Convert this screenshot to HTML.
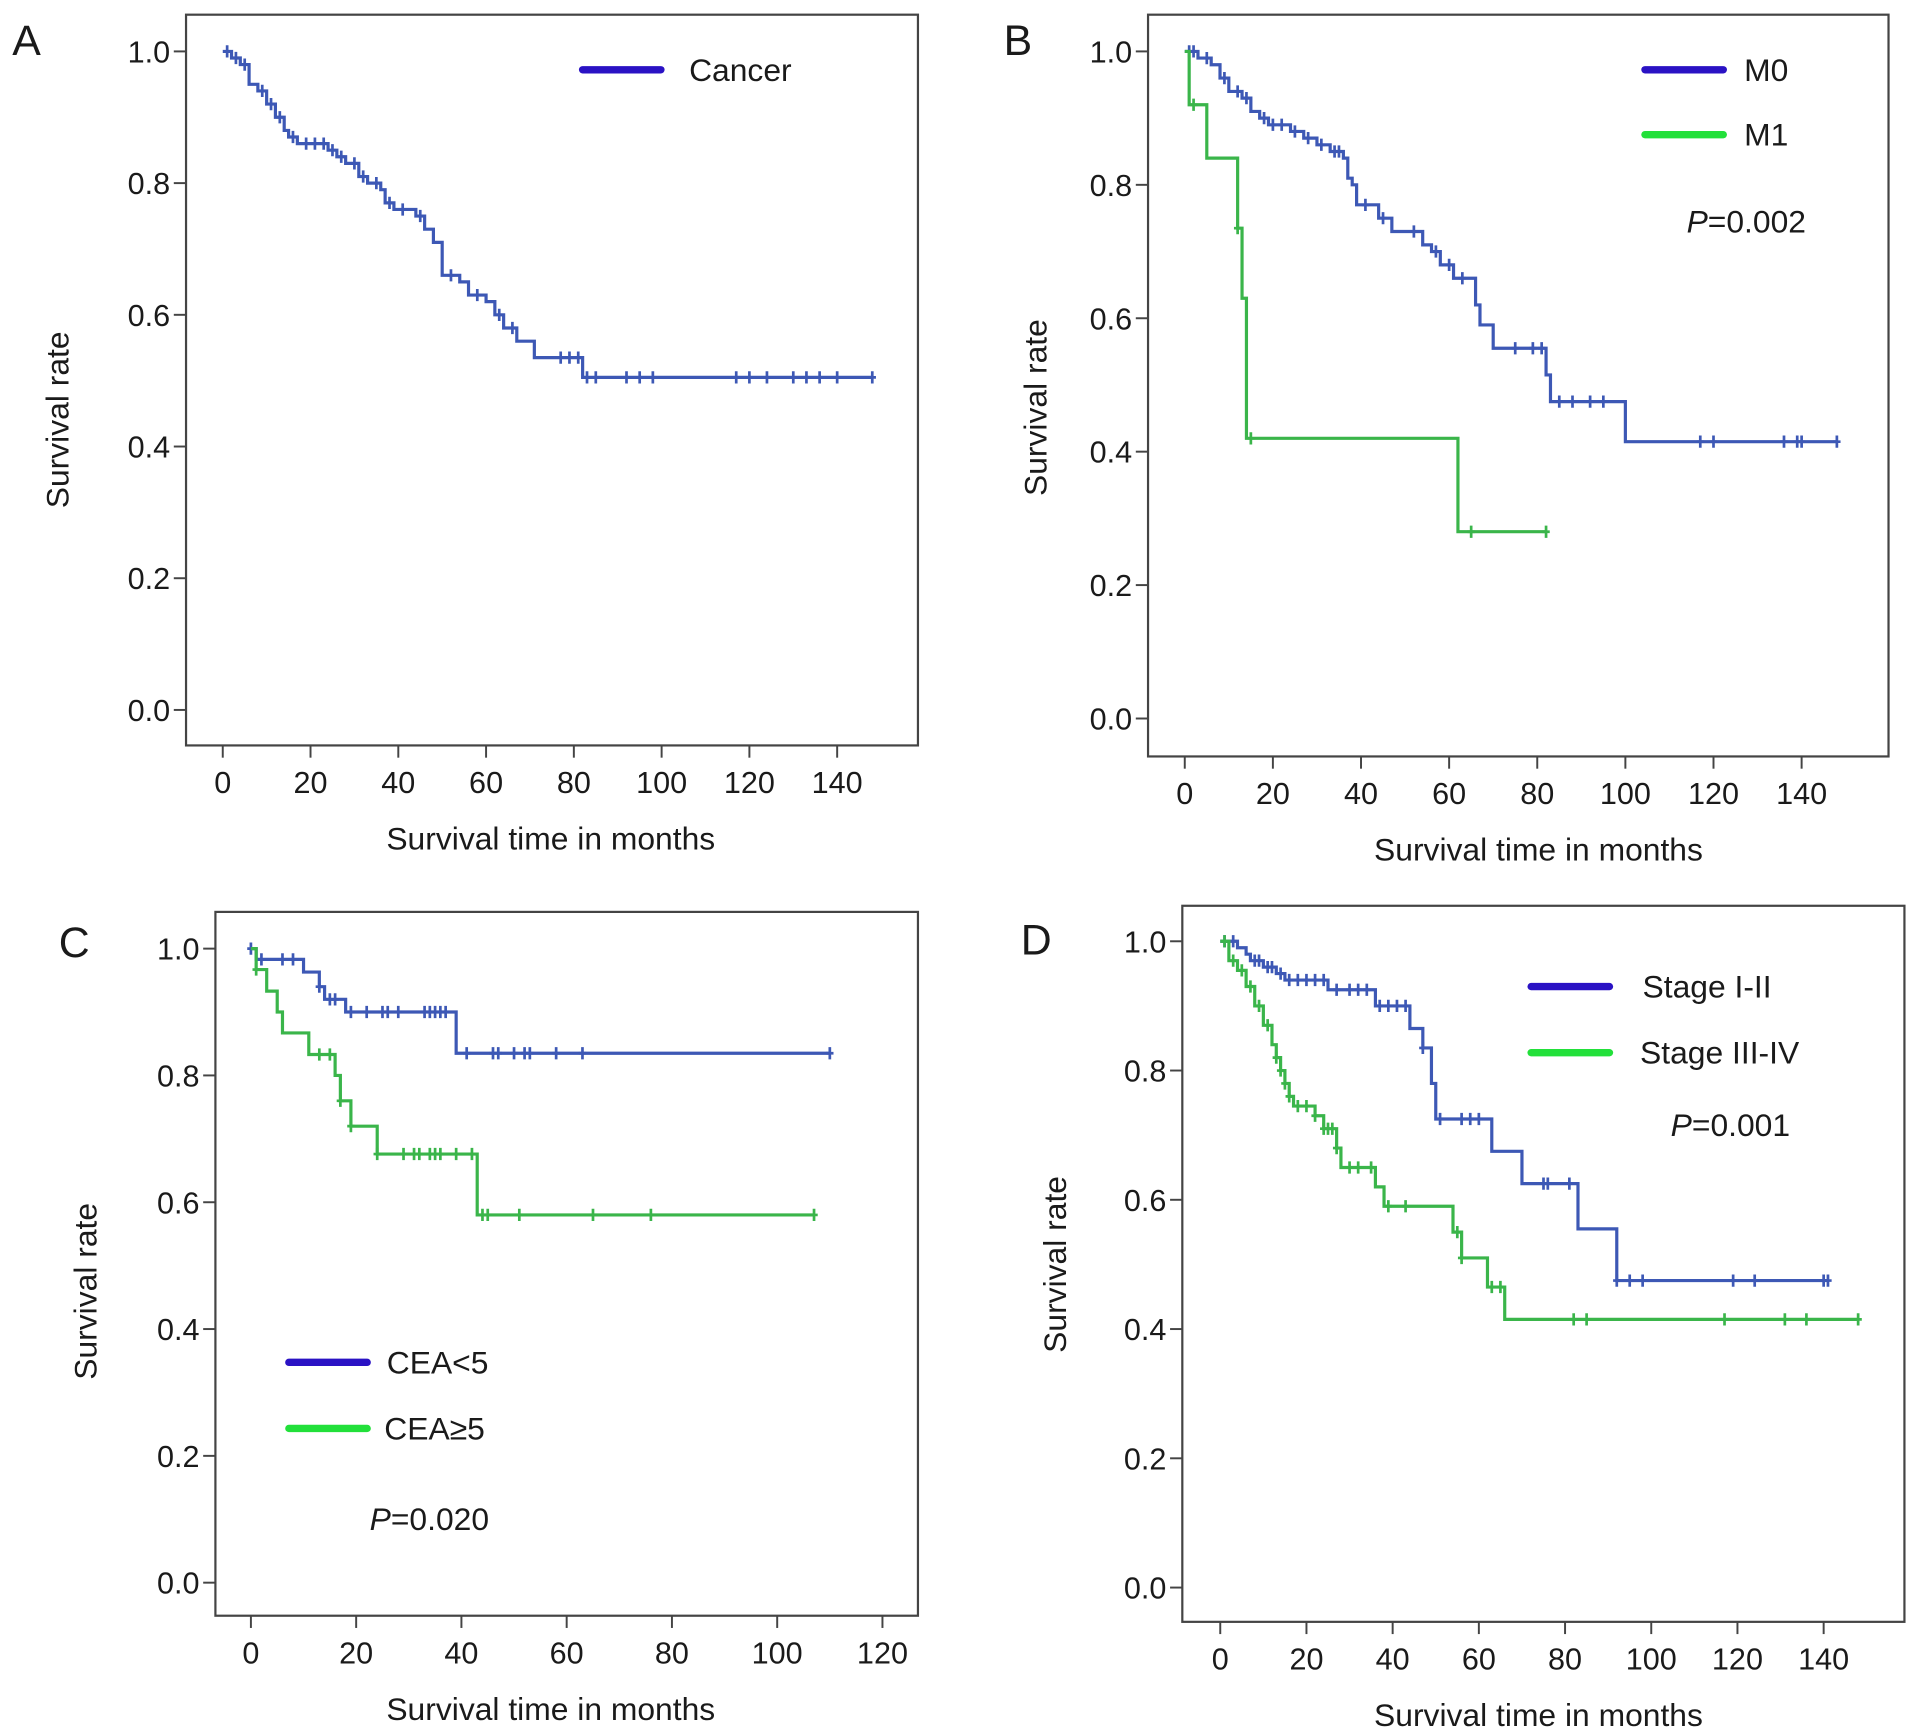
<!DOCTYPE html>
<html><head><meta charset="utf-8"><style>
html,body{margin:0;padding:0;background:#fff}
svg{display:block}
text{font-family:"Liberation Sans",Arial,sans-serif;fill:#1a1a1a}
</style></head><body>
<svg id="fig" width="1913" height="1732" viewBox="0 0 1563 1415" preserveAspectRatio="none" xmlns="http://www.w3.org/2000/svg"></svg>
<script>
// ---- data ----
const yTicks=[0,0.2,0.4,0.6,0.8,1.0];
const xTicksLong=[0,20,40,60,80,100,120,140];
const xTicksC=[0,20,40,60,80,100,120];

const cancerT=[0,2,4,6,8,10,12,14,15,17,24,26,28,31,33,36,37,39,44,46,48,50,54,56,60,62,64,67,71,82];
const cancerS=[1,0.99,0.98,0.95,0.94,0.92,0.90,0.88,0.87,0.86,0.85,0.84,0.83,0.81,0.80,0.79,0.77,0.76,0.75,0.73,0.71,0.66,0.65,0.63,0.62,0.60,0.58,0.56,0.535,0.505];
const cancerEnd=148;
const cancerCens=[1,3,5,9,11,13,16,19,21,23,25,27,30,32,35,38,41,45,52,58,63,66,77,79,81,83,85,92,95,98,117,120,124,130,133,136,140,148];

const m0T=[0,3,6,8,10,13,15,17,19,24,27,30,33,36,37,38,39,44,47,54,56,58,61,66,67,70,82,83,100];
const m0S=[1,0.99,0.98,0.96,0.94,0.93,0.91,0.90,0.89,0.88,0.87,0.86,0.85,0.84,0.81,0.80,0.77,0.75,0.73,0.71,0.70,0.68,0.66,0.62,0.59,0.555,0.515,0.475,0.415];
const m0End=148;
const m0Cens=[1,2,5,9,12,14,18,20,22,25,28,31,34,35,41,45,52,57,60,63,75,79,81,85,88,92,95,117,120,136,139,140,148];
const m1T=[0,1,5,12,13,14,62];
const m1S=[1,0.92,0.84,0.735,0.63,0.42,0.28];
const m1End=82;
const m1Cens=[2,12,15,65,82];

const ceaLowT=[0,1,10,13,14,18,39];
const ceaLowS=[1,0.983,0.963,0.94,0.92,0.90,0.835];
const ceaLowEnd=110;
const ceaLowCens=[0,2,6,8,13,15,16,19,22,25,26,28,33,34,35,36,37,41,46,47,50,52,53,58,63,110];
const ceaHighT=[0,1,3,5,6,11,16,17,19,24,43];
const ceaHighS=[1,0.967,0.933,0.90,0.867,0.833,0.80,0.76,0.72,0.676,0.58];
const ceaHighEnd=107;
const ceaHighCens=[1,13,15,17,19,24,29,31,32,34,35,36,39,42,44,45,51,65,76,107];

const st12T=[0,4,6,7,10,13,15,25,36,44,47,49,50,63,70,83,92];
const st12S=[1,0.99,0.98,0.97,0.96,0.95,0.94,0.925,0.90,0.865,0.835,0.78,0.725,0.675,0.625,0.555,0.475];
const st12End=141;
const st12Cens=[1,3,8,9,11,12,14,16,18,20,22,24,27,30,32,34,37,39,41,43,47,51,56,58,60,75,76,81,92,95,98,119,124,140,141];
const st34T=[0,2,4,6,8,10,12,13,14,15,16,17,22,24,27,28,36,38,54,56,62,66];
const st34S=[1,0.97,0.955,0.93,0.90,0.87,0.84,0.82,0.80,0.78,0.76,0.745,0.73,0.71,0.68,0.65,0.62,0.59,0.55,0.51,0.465,0.415];
const st34End=148;
const st34Cens=[1,3,5,7,9,11,13,14,15,16,18,20,22,24,25,26,27,30,32,35,39,43,55,56,63,65,82,85,117,131,136,148];

// ---- rendering ----
const NS="http://www.w3.org/2000/svg";
const svg=document.getElementById('fig');
const BLUE="#3d58b5",GREEN="#3ab54a",LBLUE="#2a12c4",LGREEN="#22e03a";
function mk(tag,attrs,parent){const e=document.createElementNS(NS,tag);for(const k in attrs)e.setAttribute(k,attrs[k]);(parent||svg).appendChild(e);return e;}
function txt(s,x,y,size,anchor,parent,extra){const t=mk('text',Object.assign({x:x,y:y,'font-size':size,'text-anchor':anchor||'start'},extra||{}),parent);t.textContent=s;return t;}

function panel(cfg){
  const g=mk('g',{});
  
  
  const X=v=>cfg.x0+(v)*(cfg.x1-cfg.x0)/cfg.xmaxTick;
  const Y=v=>cfg.y0+(cfg.y1-cfg.y0)*v;
  const box=mk('rect',{x:cfg.bx,y:cfg.by,width:cfg.bw,height:cfg.bh,fill:'none',stroke:'#444','stroke-width':1.8},g);
  
  
  yTicks.forEach(v=>{
    const yy=Y(v);
    mk('line',{x1:cfg.bx-10,x2:cfg.bx,y1:yy,y2:yy,stroke:'#444','stroke-width':1.6},g);
    const t=txt(v.toFixed(1),cfg.bx-13,yy+9,25,'end',g);
    
    
  });
  cfg.xticks.forEach(v=>{
    const xx=X(v);
    mk('line',{x1:xx,x2:xx,y1:cfg.by+cfg.bh,y2:cfg.by+cfg.bh+10,stroke:'#444','stroke-width':1.6},g);
    const t=txt(String(v),xx,cfg.by+cfg.bh+39,25,'middle',g);
    
    
  });
  const xt=txt('Survival time in months',cfg.titleX,cfg.by+cfg.bh+85,26,'middle',g);
  
  
  const yt=txt('Survival rate',0,0,26,'middle',g,{transform:`translate(${cfg.ylabX},${cfg.ylabY}) rotate(-90)`});
  
  
  const pl=txt(cfg.letter,cfg.letX,cfg.letY,35,'start',g);
  
  
  cfg.series.forEach(s=>{
    let d=`M${X(s.t[0])},${Y(s.s[0])}`;
    for(let i=1;i<s.t.length;i++){d+=` H${X(s.t[i])} V${Y(s.s[i])}`;}
    d+=` H${X(s.end)}`;
    const p=mk('path',{d:d,fill:'none',stroke:s.color,'stroke-width':2.6},g);
    
    
    s.cens.forEach(c=>{
      let v=s.s[0];
      for(let i=0;i<s.t.length;i++){if(s.t[i]<=c)v=s.s[i];}
      const m=mk('path',{d:`M${X(c)},${Y(v)-5} V${Y(v)+5} M${X(c)-3},${Y(v)} H${X(c)+3}`,stroke:s.color,'stroke-width':2.2},g);
      
      
    });
  });
  cfg.legend.forEach(l=>{
    const lg=mk('g',{},g);
    
    
    mk('line',{x1:l.x,x2:l.x+64,y1:l.y,y2:l.y,stroke:l.color,'stroke-width':6,'stroke-linecap':'round'},lg);
    txt(l.label,l.tx,l.y+9,26,'start',lg);
  });
  const pv=mk('text',{x:cfg.px,y:cfg.py,'font-size':26},g);
  if(cfg.ptext){
    
    
    const i=mk('tspan',{'font-style':'italic'},pv);i.textContent='P';
    const r=mk('tspan',{},pv);r.textContent='='+cfg.ptext;
  }
}

panel({name:'panel-a-cancer',letter:'A',letX:10,letY:45,bx:152,by:12,bw:598,bh:597,x0:182,x1:684,xmaxTick:140,y0:580,y1:42,
  xticks:xTicksLong,titleX:450,ylabX:56,ylabY:343,
  series:[{key:'cancer',t:cancerT,s:cancerS,end:cancerEnd,cens:cancerCens,color:BLUE}],
  legend:[{x:476,y:57,tx:563,label:'Cancer',color:LBLUE}],ptext:null,px:0,py:0});

panel({name:'panel-b-metastasis',letter:'B',letX:820,letY:45,bx:938,by:12,bw:605,bh:606,x0:968,x1:1472,xmaxTick:140,y0:587,y1:42,
  xticks:xTicksLong,titleX:1257,ylabX:855,ylabY:333,
  series:[{key:'m0',t:m0T,s:m0S,end:m0End,cens:m0Cens,color:BLUE},{key:'m1',t:m1T,s:m1S,end:m1End,cens:m1Cens,color:GREEN}],
  legend:[{x:1344,y:57,tx:1425,label:'M0',color:LBLUE},{x:1344,y:110,tx:1425,label:'M1',color:LGREEN}],
  ptext:'0.002',px:1378,py:190});

panel({name:'panel-c-cea',letter:'C',letX:48,letY:782,bx:176,by:745,bw:574,bh:575,x0:205,x1:721,xmaxTick:120,y0:1293,y1:775,
  xticks:xTicksC,titleX:450,ylabX:79,ylabY:1055,
  series:[{key:'cea-low',t:ceaLowT,s:ceaLowS,end:ceaLowEnd,cens:ceaLowCens,color:BLUE},{key:'cea-high',t:ceaHighT,s:ceaHighS,end:ceaHighEnd,cens:ceaHighCens,color:GREEN}],
  legend:[{x:236,y:1113,tx:316,label:'CEA<5',color:LBLUE},{x:236,y:1167,tx:314,label:'CEA≥5',color:LGREEN}],
  ptext:'0.020',px:302,py:1250});

panel({name:'panel-d-stage',letter:'D',letX:834,letY:780,bx:966,by:740,bw:590,bh:585,x0:997,x1:1490,xmaxTick:140,y0:1297,y1:769,
  xticks:xTicksLong,titleX:1257,ylabX:871,ylabY:1033,
  series:[{key:'stage-1-2',t:st12T,s:st12S,end:st12End,cens:st12Cens,color:BLUE},{key:'stage-3-4',t:st34T,s:st34S,end:st34End,cens:st34Cens,color:GREEN}],
  legend:[{x:1251,y:806,tx:1342,label:'Stage I-II',color:LBLUE},{x:1251,y:860,tx:1340,label:'Stage III-IV',color:LGREEN}],
  ptext:'0.001',px:1365,py:928});
</script>
</body></html>
